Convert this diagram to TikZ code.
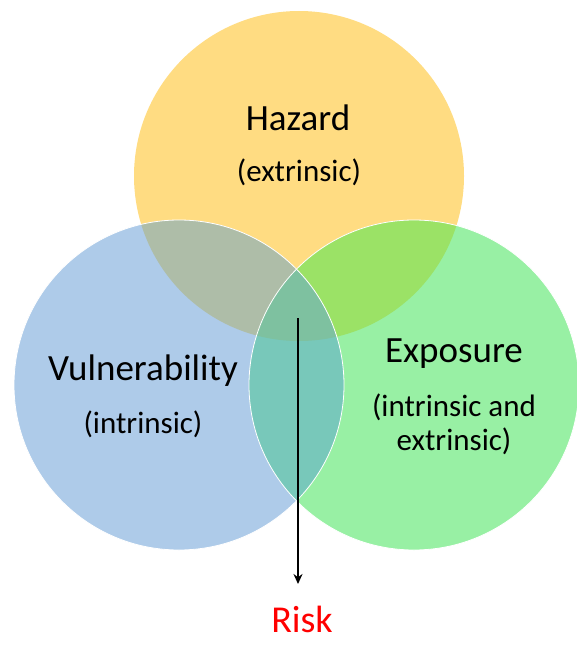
\documentclass[tikz,border=0pt]{standalone}
\usepackage{fontspec}
\setmainfont{Carlito}
\usetikzlibrary{arrows.meta}

\definecolor{hazardc}{HTML}{FFDC82}
\definecolor{vulnc}{HTML}{AECBE9}
\definecolor{expoc}{HTML}{98F0A4}
\definecolor{hvc}{HTML}{AEBDA8}
\definecolor{hec}{HTML}{9BE266}
\definecolor{vec}{HTML}{78C8BA}
\definecolor{allc}{HTML}{7EC1A0}
\definecolor{riskc}{HTML}{FF0000}

\tikzset{
  title/.style={font=\fontsize{37}{40}\selectfont, align=center},
  sub/.style={font=\fontsize{31}{34}\selectfont, align=center},
  rim/.style={draw=white, line width=0.8pt},
}

\begin{document}
\begin{tikzpicture}[x=1pt, y=-1pt]
    \useasboundingbox (0,0) rectangle (576,647);
    \coordinate (hz) at (299,176);
    \coordinate (vu) at (179,385);
    \coordinate (ex) at (414,385);
    \def\rad{165pt}

    % circles
    \fill[hazardc] (hz) circle (\rad);
    \fill[vulnc] (vu) circle (\rad);
    \fill[expoc] (ex) circle (\rad);

    % overlaps
    \begin{scope}
      \clip (hz) circle (\rad);
      \fill[hvc] (vu) circle (\rad);
      \fill[hec] (ex) circle (\rad);
    \end{scope}
    \begin{scope}
      \clip (vu) circle (\rad);
      \fill[vec] (ex) circle (\rad);
      \clip (hz) circle (\rad);
      \fill[allc] (ex) circle (\rad);
    \end{scope}

    \draw[rim] (vu) circle (\rad);
    \draw[rim] (ex) circle (\rad);

    % labels
    \node[title] (hazard) at (298,118) {Hazard};
    \node[sub] (hazardsub) at (299,172) {(extrinsic)};
    \node[title] (vuln) at (143,371) {Vulnerability};
    \node[sub] (vulnsub) at (143,424) {(intrinsic)};
    \node[title] (expo) at (454,354) {Exposure};
    \node[sub] (exposub) at (454,424) {(intrinsic and\\extrinsic)};
    \node[title, font=\fontsize{38}{42}\selectfont, text=riskc, inner sep=0pt] (risk) at (302,619) {Risk};

    \coordinate (start) at (298,318);
    \coordinate (tip) at (298,584);
    \draw[line width=2.6pt, -{Stealth[length=10pt, width=9pt]}] (start) -- (tip);
\end{tikzpicture}
\end{document}
